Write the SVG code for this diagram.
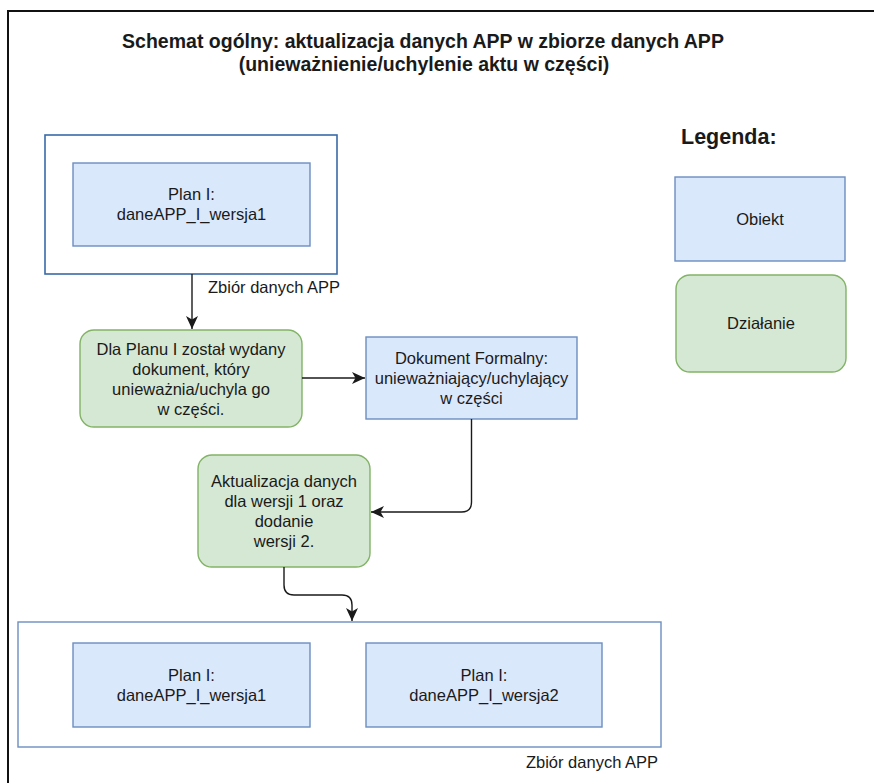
<svg xmlns="http://www.w3.org/2000/svg" width="874" height="783" viewBox="0 0 874 783">
<defs>
<style>
.t{font-family:"Liberation Sans",Arial,sans-serif;font-size:16.5px;fill:#1a1a1a;text-anchor:middle}
.tl{font-family:"Liberation Sans",Arial,sans-serif;font-size:16.5px;fill:#1a1a1a}
.title{font-family:"Liberation Sans",Arial,sans-serif;font-size:19.5px;font-weight:bold;fill:#1a1a1a;text-anchor:middle}
.obj{fill:#dae8fc;stroke:#6c8ebf;stroke-width:1.4}
.act{fill:#d5e8d4;stroke:#82b366;stroke-width:1.4}
.cont{fill:#ffffff;stroke:#6c8ebf;stroke-width:1.4}
.edge{fill:none;stroke:#1a1a1a;stroke-width:1.4}
</style>
<marker id="arr" markerUnits="userSpaceOnUse" markerWidth="14" markerHeight="12" viewBox="0 0 14 12" refX="13" refY="6" orient="auto">
<path d="M0,0 L13,6 L0,12 L3.5,6 z" fill="#1a1a1a"/>
</marker>
</defs>
<rect width="874" height="783" fill="#ffffff"/>
<rect id="frame" x="8" y="11" width="900" height="800" fill="none" stroke="#111" stroke-width="2"/>
<g id="title">
<text class="title" x="423" y="48">Schemat ogólny: aktualizacja danych APP w zbiorze danych APP</text>
<text class="title" x="424" y="71">(unieważnienie/uchylenie aktu w części)</text>
</g>
<g id="container-top">
<rect x="45" y="135" width="292" height="139" fill="#ffffff" stroke="#3a6aa8" stroke-width="1.6"/>
<text class="tl" x="208" y="293">Zbiór danych APP</text>
</g>
<g id="plan-top">
<rect class="obj" x="73" y="163" width="237" height="83"/>
<text class="t" x="191.5" y="200">Plan I:</text>
<text class="t" x="191.5" y="220">daneAPP_I_wersja1</text>
</g>
<g id="action-1">
<rect class="act" x="80" y="330" width="222" height="97" rx="14"/>
<text class="t" x="191" y="355">Dla Planu I został wydany</text>
<text class="t" x="191" y="375">dokument, który</text>
<text class="t" x="191" y="395">unieważnia/uchyla go</text>
<text class="t" x="191" y="415">w części.</text>
</g>
<g id="doc-formal">
<rect class="obj" x="366" y="337" width="211" height="82"/>
<text class="t" x="471.5" y="364">Dokument Formalny:</text>
<text class="t" x="471.5" y="384">unieważniający/uchylający</text>
<text class="t" x="471.5" y="404">w części</text>
</g>
<g id="action-2">
<rect class="act" x="198" y="455" width="172" height="112" rx="14"/>
<text class="t" x="284" y="487">Aktualizacja danych</text>
<text class="t" x="284" y="507">dla wersji 1 oraz</text>
<text class="t" x="284" y="527">dodanie</text>
<text class="t" x="284" y="547">wersji 2.</text>
</g>
<g id="container-bottom">
<rect class="cont" x="18" y="622" width="643" height="125"/>
<text class="tl" x="658" y="768" text-anchor="end">Zbiór danych APP</text>
</g>
<g id="plan-v1">
<rect class="obj" x="73" y="643" width="237" height="84"/>
<text class="t" x="191.5" y="681">Plan I:</text>
<text class="t" x="191.5" y="701">daneAPP_I_wersja1</text>
</g>
<g id="plan-v2">
<rect class="obj" x="366" y="643" width="236" height="84"/>
<text class="t" x="484" y="681">Plan I:</text>
<text class="t" x="484" y="701">daneAPP_I_wersja2</text>
</g>
<g id="legend">
<text x="681" y="144" font-family="Liberation Sans,Arial,sans-serif" font-size="21.5" font-weight="bold" fill="#1a1a1a">Legenda:</text>
<g id="legend-obiekt">
<rect class="obj" x="675" y="177" width="170" height="84"/>
<text class="t" x="760" y="225">Obiekt</text>
</g>
<g id="legend-dzialanie">
<rect class="act" x="676" y="275" width="170" height="97" rx="14"/>
<text class="t" x="761" y="329">Działanie</text>
</g>
</g>
<g id="connectors">
<path class="edge" d="M192,274 L192,329" marker-end="url(#arr)"/>
<path class="edge" d="M302,378 L365,378" marker-end="url(#arr)"/>
<path class="edge" d="M471.5,419 L471.5,502 Q471.5,512 461.5,512 L371,512" marker-end="url(#arr)"/>
<path class="edge" d="M284,567 L284,585 Q284,595 294,595 L342,595 Q352,595 352,605 L352,621" marker-end="url(#arr)"/>
</g>
</svg>
